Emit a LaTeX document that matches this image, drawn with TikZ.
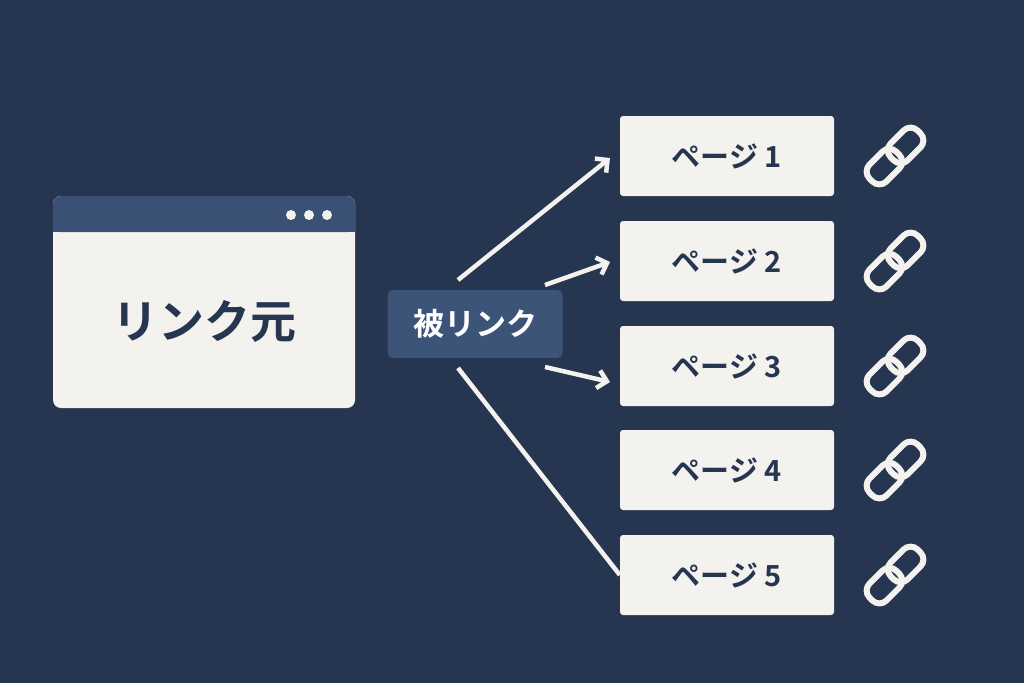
\documentclass[tikz,border=0pt]{standalone}
\usepackage{fontspec}
\newfontfamily\cjk[BoldFont={Noto Sans CJK JP Bold}]{Noto Sans CJK JP}
\usetikzlibrary{arrows.meta}
\definecolor{bg}{HTML}{263550}
\definecolor{hdr}{HTML}{3A5075}
\definecolor{lbl}{HTML}{3B5478}
\definecolor{card}{HTML}{F3F2EE}
\definecolor{ink}{HTML}{263550}
\begin{document}
\begin{tikzpicture}[x=1pt,y=-1pt,
  page/.style={fill=card,rounded corners=3pt,minimum width=214pt,minimum height=80pt,font=\cjk\bfseries\fontsize{29}{32}\selectfont,text=ink},
  conn/.style={draw=card,line width=4.5pt},
  arr/.style={conn,-{Straight Barb[length=9pt,width=18pt]}},
  link/.style={draw=card,line width=6pt,rounded corners=10pt}]
\fill[bg] (0,0) rectangle (1024,683);
\useasboundingbox (0,0) rectangle (1024,683);
% window
\fill[card,rounded corners=8pt] (53,196) rectangle (355,408);
\fill[hdr,rounded corners=8pt] (53,196) rectangle (355,232);
\fill[hdr] (53,220) rectangle (355,232);
\foreach \x in {291,309,327} \fill[card] (\x,215) circle (5pt);
\node[font=\cjk\bfseries\fontsize{46}{50}\selectfont,text=ink] (src) at (204,321) {リンク元};
% label
\node[fill=lbl,rounded corners=5pt,minimum width=175pt,minimum height=68pt,text=white,font=\cjk\bfseries\fontsize{31}{34}\selectfont] (mid) at (475,324) {被リンク};
% pages
\foreach \i/\y in {1/156,2/261,3/366,4/470,5/575}{
  \node[page] (p\i) at (727,\y) {ページ \i};
  \begin{scope}[shift={(895,\y)},rotate=45]
    \draw[link] (-34,-12) rectangle (4,12);
    \draw[link] (-4,-12) rectangle (34,12);
  \end{scope}
}
\coordinate (a1) at (458,280);
\coordinate (a2) at (545,285);
\coordinate (a3) at (545,367);
\coordinate (a5) at (458,368);
\coordinate (t1) at (610,158);
\coordinate (t2) at (610,262);
\coordinate (t3) at (610,382);
\draw[arr] (a1) -- (t1);
\draw[arr] (a2) -- (t2);
\draw[arr] (a3) -- (t3);
\draw[conn] (a5) -- (p5.west);
\end{tikzpicture}
\end{document}
